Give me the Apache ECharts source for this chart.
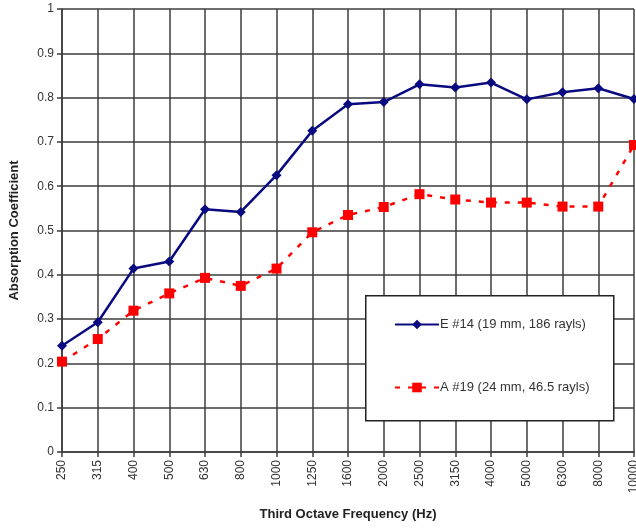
<!DOCTYPE html>
<html>
<head>
<meta charset="utf-8">
<script src="https://cdn.jsdelivr.net/npm/echarts@6/dist/echarts.min.js"></script>
<style>
  html, body { margin: 0; padding: 0; background: #fff; }
  #chart { width: 636px; height: 532px; }
</style>
</head>
<body>
<div id="chart"></div>
<script>
// Third-octave band centre frequencies (Hz)
const frequencies = ['250', '315', '400', '500', '630', '800', '1000', '1250', '1600',
  '2000', '2500', '3150', '4000', '5000', '6300', '8000', '10000'];

// Absorption coefficients per band
const seriesE14 = [0.24, 0.293, 0.414, 0.43, 0.548, 0.542, 0.625, 0.725, 0.785,
  0.79, 0.83, 0.823, 0.834, 0.796, 0.812, 0.821, 0.797];
const seriesA19 = [0.204, 0.255, 0.319, 0.358, 0.393, 0.375, 0.414, 0.496, 0.535,
  0.553, 0.582, 0.570, 0.563, 0.563, 0.554, 0.554, 0.693];

const nameE14 = 'E #14 (19 mm, 186 rayls)';
const nameA19 = 'A #19 (24 mm, 46.5 rayls)';

const font = 'Liberation Sans, Arial, sans-serif';
const gridColor = '#3c3c3c';

const chart = echarts.init(document.getElementById('chart'), null, { renderer: 'canvas' });

chart.setOption({
  animation: false,
  backgroundColor: '#ffffff',
  grid: { left: 62, right: 2, top: 9, bottom: 80, containLabel: false, outerBoundsMode: 'none' },
  xAxis: {
    type: 'category',
    data: frequencies,
    boundaryGap: false,
    name: 'Third Octave Frequency (Hz)',
    nameLocation: 'middle',
    nameGap: 56,
    nameTextStyle: { fontFamily: font, fontSize: 13, fontWeight: 'bold', color: '#222' },
    axisLine: { show: true, lineStyle: { color: gridColor, width: 1.5 } },
    axisTick: { show: true, alignWithLabel: true, length: 5, lineStyle: { color: gridColor, width: 1.5 } },
    axisLabel: { rotate: 90, fontFamily: font, fontSize: 12, color: '#333', margin: 8, interval: 0 },
    splitLine: { show: true, lineStyle: { color: gridColor, width: 1.5 } }
  },
  yAxis: {
    type: 'value',
    min: 0,
    max: 1,
    interval: 0.1,
    name: 'Absorption Coefficient',
    nameLocation: 'middle',
    nameGap: 41,
    nameTextStyle: { fontFamily: font, fontSize: 13, fontWeight: 'bold', color: '#222' },
    axisLine: { show: true, lineStyle: { color: gridColor, width: 1.5 } },
    axisTick: { show: true, length: 5, lineStyle: { color: gridColor, width: 1.5 } },
    axisLabel: {
      fontFamily: font, fontSize: 12, color: '#333', margin: 8,
      formatter: v => String(Math.round(v * 10) / 10)
    },
    splitLine: { show: true, lineStyle: { color: gridColor, width: 1.5 } }
  },
  legend: {
    orient: 'vertical',
    left: 394,
    top: 318,
    itemWidth: 44,
    itemHeight: 12,
    itemGap: 50,
    padding: 0,
    z: 60,
    textStyle: { fontFamily: font, fontSize: 13, color: '#333', padding: [0, 0, 0, -4] },
    data: [nameE14, nameA19]
  },
  graphic: [{
    type: 'rect',
    left: 365,
    top: 295,
    shape: { width: 248, height: 125 },
    style: { fill: '#ffffff', stroke: '#222', lineWidth: 1.5 },
    z: 50
  }],
  series: [
    {
      name: nameE14,
      type: 'line',
      data: seriesE14,
      color: '#0a0a80',
      symbol: 'diamond',
      symbolSize: 10,
      lineStyle: { width: 2.5, color: '#0a0a80' },
      itemStyle: { color: '#0a0a80' },
      z: 3
    },
    {
      name: nameA19,
      type: 'line',
      data: seriesA19,
      color: '#ff0000',
      symbol: 'rect',
      symbolSize: 10,
      lineStyle: { width: 2.5, color: '#ff0000', type: [5, 8] },
      itemStyle: { color: '#ff0000' },
      z: 2
    }
  ]
});
</script>
</body>
</html>
